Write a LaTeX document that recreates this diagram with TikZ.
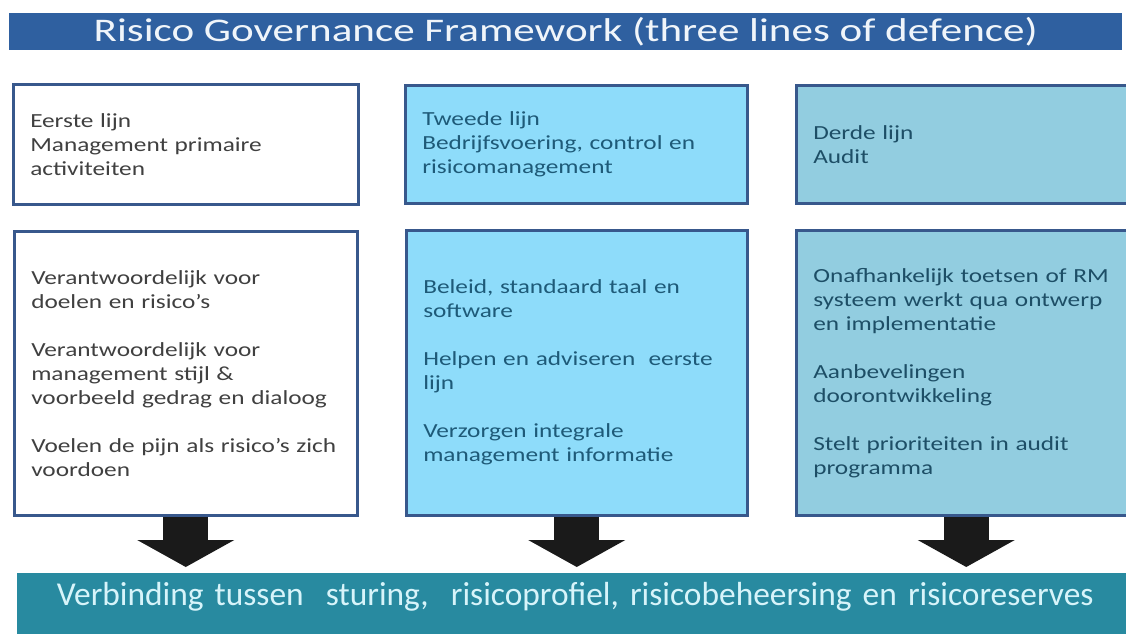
\documentclass[tikz,border=0pt]{standalone}
\usepackage{fontspec}
\setmainfont{Carlito}
\newfontfamily\boxfont{Carlito}[FakeStretch=1.265]
\newfontfamily\titlefont{Carlito}[FakeStretch=1.305]
\usetikzlibrary{arrows.meta}
\definecolor{titleblue}{RGB}{47,96,160}
\definecolor{titletext}{RGB}{240,245,250}
\definecolor{boxborder}{RGB}{56,88,140}
\definecolor{fillone}{RGB}{255,255,255}
\definecolor{filltwo}{RGB}{142,220,250}
\definecolor{fillthree}{RGB}{146,205,224}
\definecolor{textone}{RGB}{64,64,64}
\definecolor{texttwo}{RGB}{30,90,120}
\definecolor{textthree}{RGB}{29,78,102}
\definecolor{barteal}{RGB}{40,138,160}
\definecolor{bartext}{RGB}{215,244,250}
\definecolor{arrowblack}{RGB}{26,26,26}
\tikzset{
  box/.style={draw=boxborder, line width=2.5pt, anchor=north west, inner xsep=17pt,
    inner ysep=0pt, align=left, font=\boxfont\fontsize{20}{24}\selectfont},
  bigarrow/.style={draw=arrowblack, line width=45pt,
    -{Triangle[width=96pt,length=27pt]}, shorten >=6pt}
}
\begin{document}
\begin{tikzpicture}[x=1pt,y=-1pt]
\useasboundingbox (0,0) rectangle (1126,633);
\node[fill=titleblue, text=titletext, anchor=north west, minimum width=1113pt,
  minimum height=37pt, inner sep=0pt, font=\titlefont\fontsize{33}{36}\selectfont]
  (title) at (9,13) {Risico Governance Framework (three lines of defence)};

\node[box, fill=fillone, text=textone, minimum width=345pt, minimum height=120pt,
  text width=311pt] (t1) at (12,83) {Eerste lijn\\Management primaire\\activiteiten};
\node[box, fill=filltwo, text=texttwo, minimum width=342pt, minimum height=118pt,
  text width=308pt] (t2) at (404,84) {Tweede lijn\\Bedrijfsvoering, control en\\risicomanagement};
\node[box, fill=fillthree, text=textthree, minimum width=345pt, minimum height=118pt,
  text width=311pt] (t3) at (795,84) {Derde lijn\\Audit};

\node[box, fill=fillone, text=textone, minimum width=343pt, minimum height=284pt,
  text width=309pt] (b1) at (13,230) {Verantwoordelijk voor\\doelen en risico’s\\[24pt]Verantwoordelijk voor\\management stijl \&\\voorbeeld gedrag en dialoog\\[24pt]Voelen de pijn als risico’s zich\\voordoen};
\node[box, fill=filltwo, text=texttwo, minimum width=341pt, minimum height=285pt,
  text width=307pt] (b2) at (405,229) {Beleid, standaard taal en\\software\\[24pt]Helpen en adviseren\ \ eerste\\lijn\\[24pt]Verzorgen integrale\\management informatie};
\node[box, fill=fillthree, text=textthree, minimum width=340pt, minimum height=285pt,
  text width=306pt] (b3) at (795,229) {Onafhankelijk toetsen of RM\\systeem werkt qua ontwerp\\en implementatie\\[24pt]Aanbevelingen\\doorontwikkeling\\[24pt]Stelt prioriteiten in audit\\programma};

\node[fill=barteal, text=bartext, anchor=north west, inner sep=0pt, text width=1116pt,
  align=center, text height=32pt, text depth=35pt, font=\fontsize{33.4}{36}\selectfont]
  (bar) at (17,573) {Verbinding tussen\ \ sturing,\ \ risicoprofiel, risicobeheersing en risicoreserves};

\draw[bigarrow] (b1.south) -- (b1.south |- bar.north);
\draw[bigarrow] (b2.south) -- (b2.south |- bar.north);
\draw[bigarrow] (b3.south) -- (b3.south |- bar.north);
\end{tikzpicture}
\end{document}
